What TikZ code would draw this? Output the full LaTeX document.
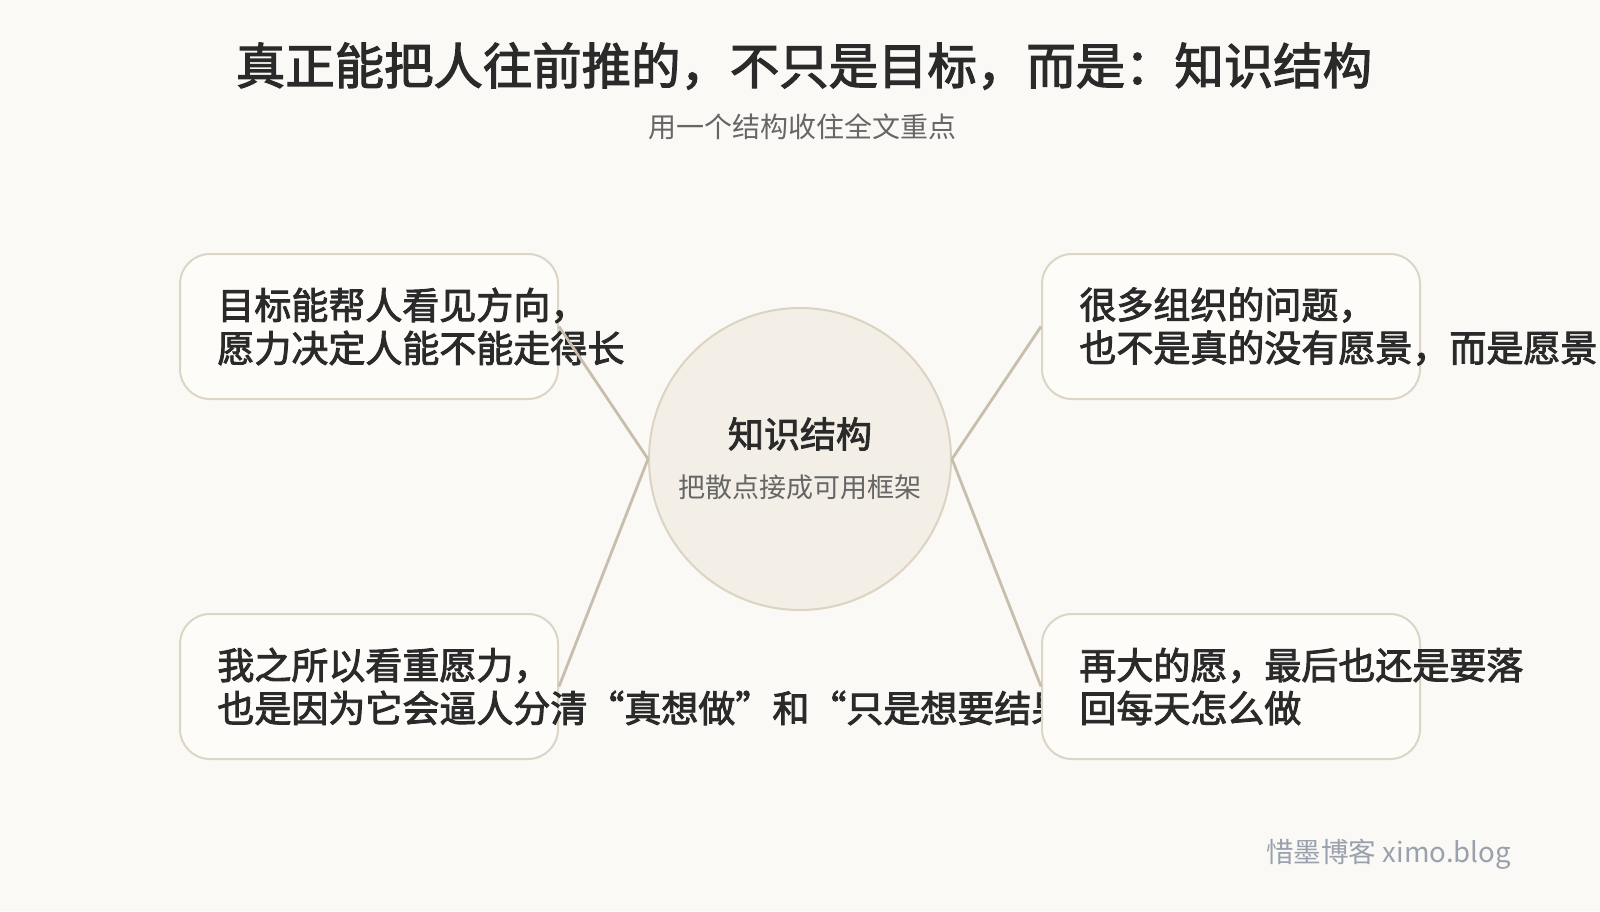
\documentclass[tikz,border=0pt]{standalone}
\usepackage{fontspec}
\setmainfont{Noto Sans CJK SC}[BoldFont={Noto Sans CJK SC},BoldFeatures={FakeBold=2.4}]
\definecolor{bgcol}{HTML}{FAF9F6}
\definecolor{cardfill}{HTML}{FDFCF9}
\definecolor{cardline}{HTML}{DDD5C5}
\definecolor{hubfill}{HTML}{F3EFE7}
\definecolor{hubline}{HTML}{DCD3C2}
\definecolor{linkcol}{HTML}{C8BEAD}
\definecolor{ink}{HTML}{2A2A2A}
\definecolor{subink}{HTML}{666666}
\definecolor{markink}{HTML}{99A1AD}
\tikzset{
    card/.style={rectangle,rounded corners=15pt,draw=cardline,fill=cardfill,
        line width=1pt,minimum width=189pt,minimum height=72.5pt,inner sep=0pt},
    cardtext/.style={anchor=west,inner sep=0pt,align=left,text=ink,
        font=\bfseries\fontsize{18.5}{21.5}\selectfont},
    link/.style={draw=linkcol,line width=1.4pt}
}
\begin{document}
\begin{tikzpicture}[x=0.5pt,y=-0.5pt]
        \fill[bgcol] (0,0) rectangle (1600,911);
        \useasboundingbox (0,0) rectangle (1600,911);
        \node (title) at (804,66) [text=ink,font=\bfseries\fontsize{24.7}{24.7}\selectfont]
            {真正能把人往前推的，不只是目标，而是：知识结构};
        \node (sub) at (802,127) [text=subink,font=\fontsize{14}{14}\selectfont]
            {用一个结构收住全文重点};
        \node (hub) at (800,459) [circle,draw=hubline,fill=hubfill,line width=1pt,
            minimum size=151pt,inner sep=0pt]{};
        \node (hubt) at (800,434) [text=ink,font=\bfseries\fontsize{18}{18}\selectfont] {知识结构};
        \node (hubs) at (800,487) [text=subink,font=\fontsize{13.5}{13.5}\selectfont] {把散点接成可用框架};
        \node (tl) at (369,326.5) [card]{};
        \node (tlt) at (tl.west) [cardtext,xshift=19pt]
            {目标能帮人看见方向，\\愿力决定人能不能走得长};
        \node (tr) at (1231,326.5) [card]{};
        \node (trt) at (tr.west) [cardtext,xshift=19pt]
            {很多组织的问题，\\也不是真的没有愿景，而是愿景};
        \node (bl) at (369,686.5) [card]{};
        \node (blt) at (bl.west) [cardtext,xshift=19pt]
            {我之所以看重愿力，\\也是因为它会逼人分清“真想做”和“只是想要结果”};
        \node (br) at (1231,686.5) [card]{};
        \node (brt) at (br.west) [cardtext,xshift=19pt]
            {再大的愿，最后也还是要落\\回每天怎么做};
        \path[link] (tl.east) edge (hub.west);
        \path[link] (bl.east) edge (hub.west);
        \path[link] (tr.west) edge (hub.east);
        \path[link] (br.west) edge (hub.east);
        \node (mark) at (1518,854) [anchor=east,text=markink,font=\fontsize{13.8}{13.8}\selectfont]
            {惜墨博客 ximo.blog};
    \end{tikzpicture}
\end{document}
